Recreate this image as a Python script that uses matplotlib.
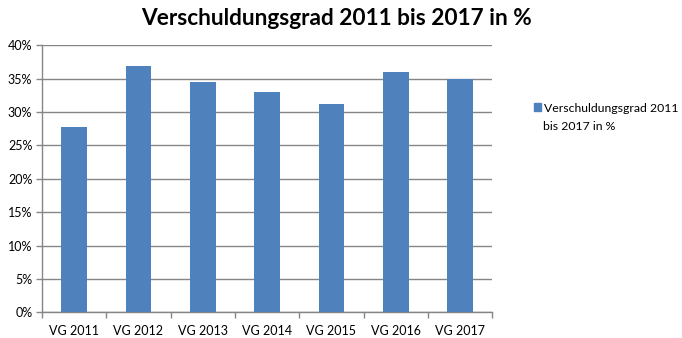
import numpy as np
import matplotlib.pyplot as plt
from matplotlib.ticker import FuncFormatter, MultipleLocator
from matplotlib.patches import Patch

# Verschuldungsgrad je Jahr (in %)
jahre = ['VG 2011', 'VG 2012', 'VG 2013', 'VG 2014', 'VG 2015', 'VG 2016', 'VG 2017']
werte = [27.8, 36.9, 34.5, 33.0, 31.2, 36.0, 35.0]

plt.rcParams['font.family'] = ['Lato', 'DejaVu Sans']

blau = '#4f81bd'
grau = '#868686'

fig = plt.figure(figsize=(6.82, 3.38), dpi=100)
ax = fig.add_axes([0.0616, 0.076, 0.66, 0.79])

x = np.arange(len(jahre))
ax.bar(x, werte, width=0.4, color=blau, zorder=3)

ax.set_xlim(-0.5, len(jahre) - 0.5)
ax.set_ylim(0, 40)
ax.yaxis.set_major_locator(MultipleLocator(5))
ax.yaxis.set_major_formatter(FuncFormatter(lambda v, p: '%d%%' % v))
ax.grid(axis='y', color=grau, linewidth=1, zorder=0)

# category labels in the middle, tick marks on the boundaries
ax.set_xticks(x)
ax.set_xticklabels(jahre)
ax.set_xticks(np.arange(len(jahre) + 1) - 0.5, minor=True)
ax.tick_params(axis='x', which='major', length=0, pad=9, labelsize=9)
ax.tick_params(axis='x', which='minor', length=4, color=grau, width=1)
ax.tick_params(axis='y', length=4, color=grau, width=1, labelsize=9, pad=3)

for s in ['top', 'right']:
    ax.spines[s].set_visible(False)
for s in ['left', 'bottom']:
    ax.spines[s].set_color(grau)
    ax.spines[s].set_linewidth(1)

fig.text(0.493, 0.945, 'Verschuldungsgrad 2011 bis 2017 in %', ha='center', va='center',
         fontsize=16.3, fontweight='bold')

# legend: marker beside the first line, second line of the label below
fig.legend(handles=[Patch(color=blau, label='Verschuldungsgrad 2011')],
           loc='center left', bbox_to_anchor=(534 / 682, 1 - 108 / 338), frameon=False, fontsize=8.8,
           handlelength=0.6, handleheight=0.6, handletextpad=0.25, borderpad=0, borderaxespad=0)
fig.text(543 / 682, 1 - 126 / 338, 'bis 2017 in %', ha='left', va='center', fontsize=8.8)

fig.savefig('out.png', dpi=100)
